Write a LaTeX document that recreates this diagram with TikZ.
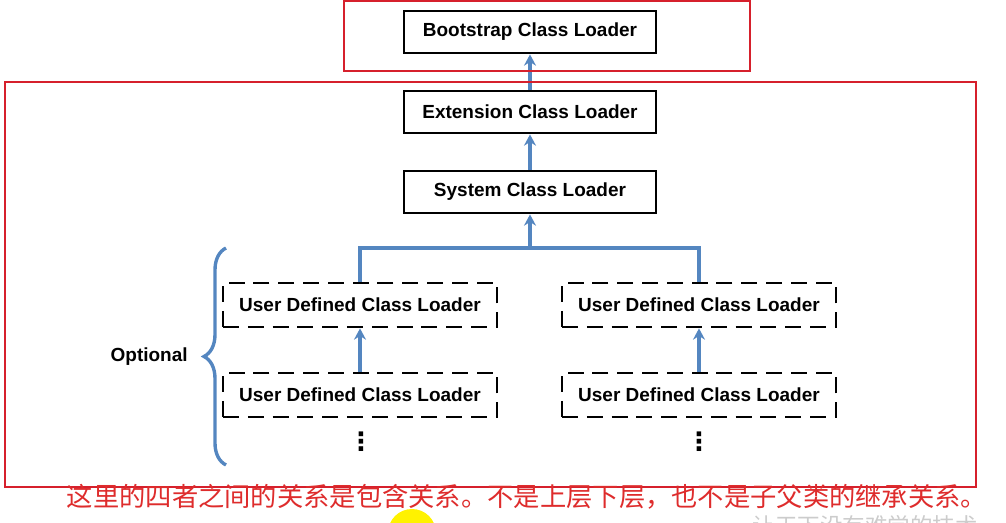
\documentclass[tikz,border=0pt]{standalone}
\usepackage{fontspec}
\setmainfont{Liberation Sans}
\newfontfamily\cjk{Noto Sans CJK SC}
\newfontfamily\dejavu{DejaVu Sans}
\usetikzlibrary{positioning}
\usetikzlibrary{arrows.meta}
\usetikzlibrary{decorations.pathreplacing}
\definecolor{linkblue}{RGB}{84,134,192}
\definecolor{frame}{RGB}{214,32,44}
\definecolor{note}{RGB}{222,44,44}
\tikzset{
heavy/.style={line width=2pt},
loader/.style={draw, heavy, minimum width=6.3cm, minimum height=1.05cm,
	font=\fontsize{13.5}{15}\selectfont\bfseries},
userloader/.style={loader, dash pattern=on 0.4cm off 0.22cm, minimum width=6.85cm, minimum height=1.1cm},
link/.style={linkblue, line width=2.3pt},
uplink/.style={link, -{Stealth[length=8pt,width=8.5pt]}},
region/.style={frame, line width=1.4pt},
more/.style={font=\dejavu\bfseries\fontsize{18}{18}\selectfont, inner sep=0pt},
}
\begin{document}
\begin{tikzpicture}[x=0.025cm, y=-0.025cm, node distance=0.9cm]
\useasboundingbox (0,0) rectangle (1006,523);
\clip (0,0) rectangle (1006,523);
\node[loader] (boot) at (530,32) {Bootstrap Class Loader};
\node[loader] (ext) at (530,112) {Extension Class Loader};
\node[loader] (sys) at (530,192) {System Class Loader};

\node[userloader] (ua) at (360,305) {User Defined Class Loader};
\node[userloader] (ub) at (699,305) {User Defined Class Loader};
\node[userloader] (uc) at (360,395) {User Defined Class Loader};
\node[userloader] (ud) at (699,395) {User Defined Class Loader};

\node[more] (dotsl) at (361,442) {⋮};
\node[more] (dotsr) at (699,442) {⋮};

\coordinate (fork) at (530,248);

%
\draw[uplink] (ext) -- (boot);
\draw[uplink] (sys) -- (ext);
\draw[uplink] (fork) -- (sys);
\draw[link] (ua.north) |- (fork) -| (ub.north);
\draw[uplink] (uc) -- (ua);
\draw[uplink] (ud) -- (ub);

%
\coordinate (bracelo) at (226,465);
\coordinate (bracehi) at (226,248);
\draw[link, line width=2.4pt, decorate, decoration={brace, amplitude=0.55cm}] (bracelo) -- (bracehi)
	node[midway, left=0.8cm, black, font=\fontsize{13.5}{15}\selectfont\bfseries] (opt) {Optional};

%
\draw[region] (344,1) rectangle (750,71);
\draw[region] (5,82) rectangle (976,487);

\node[note, font=\cjk\fontsize{18.7}{20}\selectfont] (remark) at (527,497)
	{这里的四者之间的关系是包含关系。不是上层下层，也不是子父类的继承关系。};

%
\fill[yellow] (412,533) circle (24);
\node[black!20, font=\cjk\fontsize{16}{18}\selectfont, anchor=west] (mark) at (748,526) {让天下没有难学的技术};
\end{tikzpicture}
\end{document}
